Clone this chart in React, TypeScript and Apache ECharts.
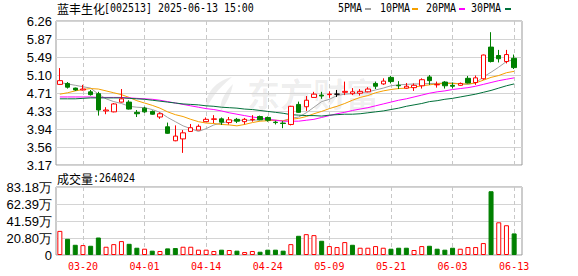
import React, { useEffect, useRef } from "react";
import * as echarts from "echarts";

const stockName = "蓝丰生化";
const stockInfo = "[002513] 2025-06-13 15:00";
const volumeTitle = "成交量";

const dates = ["03-17","03-18","03-19","03-20","03-21","03-24","03-25","03-26","03-27","03-28","03-31","04-01","04-02","04-03","04-07","04-08","04-09","04-10","04-11","04-14","04-15","04-16","04-17","04-18","04-21","04-22","04-23","04-24","04-25","04-28","04-29","04-30","05-06","05-07","05-08","05-09","05-12","05-13","05-14","05-15","05-16","05-19","05-20","05-21","05-22","05-23","05-26","05-27","05-28","05-29","05-30","06-03","06-04","06-05","06-06","06-09","06-10","06-11","06-12","06-13"];

const opens = [4.90,4.92,4.82,4.78,4.74,4.70,4.33,4.31,4.52,4.52, 4.30,4.39,4.32,4.20,3.99,3.69,3.73,3.89,3.92,4.10, 4.15,4.16,4.08,4.15,4.10,4.14,4.21,4.19,4.09,4.07, 4.04,4.47,4.42,4.62,4.67,4.68,4.69,4.73,4.70,4.71, 4.74,4.92,4.91,5.05,4.88,4.82,4.83,4.87,5.06,4.89, 4.95,4.88,4.88,5.03,4.94,5.02,5.70,5.52,5.39,5.46];
const closes = [4.98,4.84,4.78,4.80,4.68,4.35,4.35,4.48,4.59,4.37, 4.27,4.31,4.26,4.27,3.85,3.79,3.86,3.97,4.00,4.15, 4.16,4.09,4.14,4.11,4.15,4.15,4.14,4.13,4.08,4.06, 4.43,4.30,4.56,4.69,4.65,4.69,4.69,4.75,4.74,4.75, 4.80,4.86,4.97,4.96,4.87,4.86,4.88,5.00,4.98,4.90, 4.87,4.86,4.92,4.93,5.04,5.53,5.39,5.45,5.54,5.26];
const highs = [5.25,4.95,4.83,4.89,4.78,4.74,4.41,4.50,4.80,4.56, 4.35,4.42,4.34,4.30,4.08,4.02,3.92,4.05,4.04,4.19, 4.24,4.19,4.20,4.18,4.18,4.24,4.23,4.21,4.12,4.11, 4.44,4.53,4.65,4.74,4.74,4.75,4.78,4.96,4.82,4.80, 4.84,4.96,5.03,5.08,4.97,4.93,4.92,5.03,5.10,4.96, 4.97,4.94,4.94,5.08,5.09,5.54,6.02,5.64,5.64,5.54];
const lows = [4.89,4.81,4.76,4.77,4.66,4.23,4.26,4.30,4.51,4.36, 4.20,4.29,4.25,4.16,3.84,3.68,3.43,3.89,3.92,4.10, 4.07,4.03,4.04,4.07,4.04,4.10,4.13,4.10,4.04,3.96, 4.02,4.29,4.33,4.62,4.59,4.61,4.63,4.67,4.67,4.66, 4.73,4.80,4.89,4.92,4.80,4.81,4.76,4.81,4.89,4.83, 4.81,4.81,4.87,4.92,4.89,5.00,5.37,5.37,5.35,5.23];

const volumes = [295000,198000,125000,121000,113000,214000,101000,133000,170000,137000, 89000,77000,53000,49000,81000,85000,101000,101000,65000,65000, 49000,65000,61000,53000,36000,49000,40000,65000,65000,53000, 133000,235000,255000,243000,174000,109000,97000,158000,125000,89000, 89000,109000,89000,77000,89000,89000,61000,109000,113000,77000, 65000,89000,77000,97000,97000,146000,780000,400000,364000,264024];

const ma5 = [4.94,4.91,4.88,4.85,4.82,4.69,4.59,4.53,4.49,4.43, 4.41,4.40,4.36,4.30,4.19,4.10,4.01,3.95,3.89,3.95, 4.03,4.07,4.11,4.13,4.13,4.13,4.14,4.14,4.13,4.12, 4.17,4.20,4.29,4.41,4.53,4.58,4.66,4.69,4.70,4.72, 4.74,4.78,4.82,4.87,4.89,4.90,4.91,4.91,4.92,4.92, 4.93,4.93,4.91,4.90,4.93,5.06,5.16,5.27,5.39,5.43];
const ma10 = [4.69,4.72,4.76,4.79,4.81,4.80,4.76,4.72,4.68,4.62, 4.55,4.50,4.45,4.39,4.31,4.25,4.21,4.15,4.10,4.07, 4.06,4.04,4.03,4.01,4.04,4.08,4.11,4.12,4.13,4.12, 4.15,4.17,4.21,4.27,4.32,4.38,4.43,4.49,4.56,4.62, 4.66,4.72,4.76,4.79,4.81,4.82,4.84,4.87,4.89,4.91, 4.92,4.92,4.91,4.91,4.93,4.99,5.05,5.09,5.15,5.18];
const ma20 = [4.63,4.63,4.63,4.63,4.63,4.62,4.62,4.62,4.62,4.61, 4.60,4.59,4.58,4.56,4.53,4.50,4.47,4.44,4.41,4.38, 4.36,4.33,4.29,4.26,4.23,4.20,4.18,4.15,4.13,4.11, 4.11,4.11,4.13,4.15,4.19,4.23,4.27,4.30,4.34,4.37, 4.40,4.44,4.48,4.52,4.56,4.59,4.63,4.67,4.71,4.74, 4.76,4.79,4.81,4.83,4.86,4.90,4.94,4.98,5.01,5.04];
const ma30 = [4.59,4.59,4.59,4.60,4.61,4.61,4.61,4.61,4.61,4.60, 4.59,4.58,4.56,4.54,4.52,4.50,4.48,4.47,4.46,4.44, 4.43,4.41,4.40,4.39,4.37,4.36,4.34,4.32,4.30,4.28, 4.25,4.24,4.23,4.23,4.22,4.24,4.25,4.26,4.26,4.27, 4.29,4.31,4.33,4.36,4.39,4.43,4.46,4.49,4.53,4.55, 4.58,4.60,4.63,4.66,4.69,4.73,4.77,4.82,4.87,4.91];

const maNames = ["5PMA", "10PMA", "20PMA", "30PMA"];
const maColors = ["#a0a0a0", "#f5a000", "#ff00ff", "#00703a"];
const maData = [ma5, ma10, ma20, ma30];

const priceMin = 3.17;
const priceMax = 6.26;
const priceSplits = 8;
const volMax = 831800;
const volSplits = 4;

const UP = "#ff0000";
const DOWN = "#008000";

// layout
const legendTextX = [338, 380, 426, 471];
const legendIconX = [365, 412, 459, 505];
const monoScale = 6 / 7.22;

const tickFn = (idx: number) => idx % 8 === 3;

const leafPath =
  "M30 0 C14 4 2 16 4 34 C8 22 16 12 30 0 Z M31 7 C23 15 17 25 19 34 C25 25 29 17 31 7 Z";
let leafRegistered = false;

export default function App() {
  const ref = useRef<HTMLDivElement>(null);
  useEffect(() => {
    if (!ref.current) return;
    if (!leafRegistered) {
      echarts.graphic.registerShape("leafmark", echarts.graphic.extendPath(leafPath, {}));
      leafRegistered = true;
    }
    const chart = echarts.init(ref.current, null, { renderer: "svg" });
    const priceInterval = (priceMax - priceMin) / priceSplits;
    const volInterval = volMax / volSplits;

    const candleData = opens.map((o, i) => [o, closes[i], lows[i], highs[i]]);
    const volData = volumes.map((v, i) => {
      const up = i === 0 ? closes[0] >= opens[0] : closes[i] >= closes[i - 1];
      return {
        value: v,
        itemStyle: up
          ? { color: "#ffffff", borderColor: UP, borderWidth: 1 }
          : { color: DOWN, borderColor: DOWN, borderWidth: 1 },
      };
    });

    const graphics: any[] = [
      {
        type: "leafmark",
        x: 202,
        y: 77,
        z: 0,
        silent: true,
        style: { fill: "rgba(0,0,0,0.07)" },
      },
      {
        type: "text",
        x: 247,
        y: 76,
        z: 0,
        silent: true,
        style: {
          text: "东方财富",
          fontSize: 33,
          fontWeight: "bold",
          fontFamily: "Noto Sans CJK SC",
          fill: "rgba(0,0,0,0.07)",
        },
      },
      {
        type: "text",
        x: 57,
        y: 8,
        style: { text: stockName, fontSize: 12, fontFamily: "Noto Sans CJK SC", fill: "#000", verticalAlign: "middle" },
      },
      {
        type: "text",
        x: 104,
        y: 8,
        scaleX: monoScale,
        style: { text: stockInfo, fontSize: 12, fontFamily: "DejaVu Sans Mono", fill: "#000", verticalAlign: "middle" },
      },
      {
        type: "text",
        x: 57,
        y: 178,
        style: { text: volumeTitle, fontSize: 12, fontFamily: "Noto Sans CJK SC", fill: "#000", verticalAlign: "middle" },
      },
      {
        type: "text",
        x: 93,
        y: 178,
        scaleX: monoScale,
        style: { text: ":" + volumes[volumes.length - 1], fontSize: 12, fontFamily: "DejaVu Sans Mono", fill: "#000", verticalAlign: "middle" },
      },
    ];
    maNames.forEach((name, i) => {
      graphics.push({
        type: "text",
        x: legendTextX[i],
        y: 8,
        scaleX: monoScale,
        style: { text: name, fontSize: 12, fontFamily: "DejaVu Sans Mono", fill: "#000", verticalAlign: "middle" },
      });
      graphics.push({
        type: "rect",
        shape: { x: legendIconX[i], y: 8, width: 6, height: 2 },
        style: { fill: maColors[i] },
      });
    });

    const yLabel = { fontSize: 13, fontFamily: "Liberation Sans", color: "#000", margin: 4 };

    chart.setOption({
      animation: false,
      backgroundColor: "#ffffff",
      graphic: graphics,
      grid: [
        { left: 56, top: 21, width: 466, height: 144, show: true, borderColor: "#999", borderWidth: 1, backgroundColor: "transparent" },
        { left: 56, top: 21, width: 462, height: 144 },
        { left: 56, top: 187, width: 466, height: 68, show: true, borderColor: "#999", borderWidth: 1, backgroundColor: "transparent" },
        { left: 56, top: 187, width: 462, height: 68 },
      ],
      xAxis: [
        { type: "value", gridIndex: 0, min: 0, max: 1, show: false },
        {
          type: "category",
          gridIndex: 1,
          data: dates,
          boundaryGap: true,
          axisLine: { show: false },
          axisTick: { show: false },
          axisLabel: { show: false },
          splitLine: { show: true, interval: tickFn, alignWithLabel: true, lineStyle: { color: "#c8c8c8", type: [4, 3], width: 1 } },
        },
        { type: "value", gridIndex: 2, min: 0, max: 1, show: false },
        {
          type: "category",
          gridIndex: 3,
          data: dates,
          boundaryGap: true,
          axisLine: { show: false },
          axisTick: { show: false },
          axisLabel: { show: true, interval: tickFn, color: UP, fontSize: 10, fontFamily: "DejaVu Sans Mono", margin: 6 },
          splitLine: { show: true, interval: tickFn, alignWithLabel: true, lineStyle: { color: "#c8c8c8", type: [4, 3], width: 1 } },
        },
      ],
      yAxis: [
        {
          type: "value",
          gridIndex: 0,
          min: priceMin,
          max: priceMax,
          interval: priceInterval,
          axisLine: { show: false },
          axisTick: { show: false },
          axisLabel: { ...yLabel, formatter: (v: number) => (v - 1e-6).toFixed(2) },
          splitLine: { show: true, lineStyle: { color: "#d4d4d4", width: 1 } },
        },
        { type: "value", gridIndex: 1, min: priceMin, max: priceMax, show: false, splitLine: { show: false } },
        {
          type: "value",
          gridIndex: 2,
          min: 0,
          max: volMax,
          interval: volInterval,
          axisLine: { show: false },
          axisTick: { show: false },
          axisLabel: {
            ...yLabel,
            formatter: (v: number) => (v === 0 ? "0" : (v / 10000 + 1e-6).toFixed(2) + "万"),
          },
          splitLine: { show: true, lineStyle: { color: "#d4d4d4", width: 1 } },
        },
        { type: "value", gridIndex: 3, min: 0, max: volMax, show: false, splitLine: { show: false } },
      ],
      series: [
        ...maNames.map((name, i) => ({
          name,
          type: "line",
          xAxisIndex: 1,
          yAxisIndex: 1,
          data: maData[i],
          symbol: "none",
          smooth: false,
          lineStyle: { color: maColors[i], width: 1 },
          z: 3,
        })),
        {
          name: "K",
          type: "candlestick",
          xAxisIndex: 1,
          yAxisIndex: 1,
          data: candleData,
          barWidth: 5,
          z: 4,
          itemStyle: {
            color: "#ffffff",
            color0: DOWN,
            borderColor: UP,
            borderColor0: DOWN,
            borderColorDoji: "#000000",
            borderWidth: 1,
          },
        },
        {
          name: "VOL",
          type: "bar",
          xAxisIndex: 3,
          yAxisIndex: 3,
          data: volData,
          barWidth: 5,
        },
      ],
    });
    return () => chart.dispose();
  }, []);
  return <div ref={ref} style={{ position: "absolute", left: 0, top: 0, width: 578, height: 276 }} />;
}
